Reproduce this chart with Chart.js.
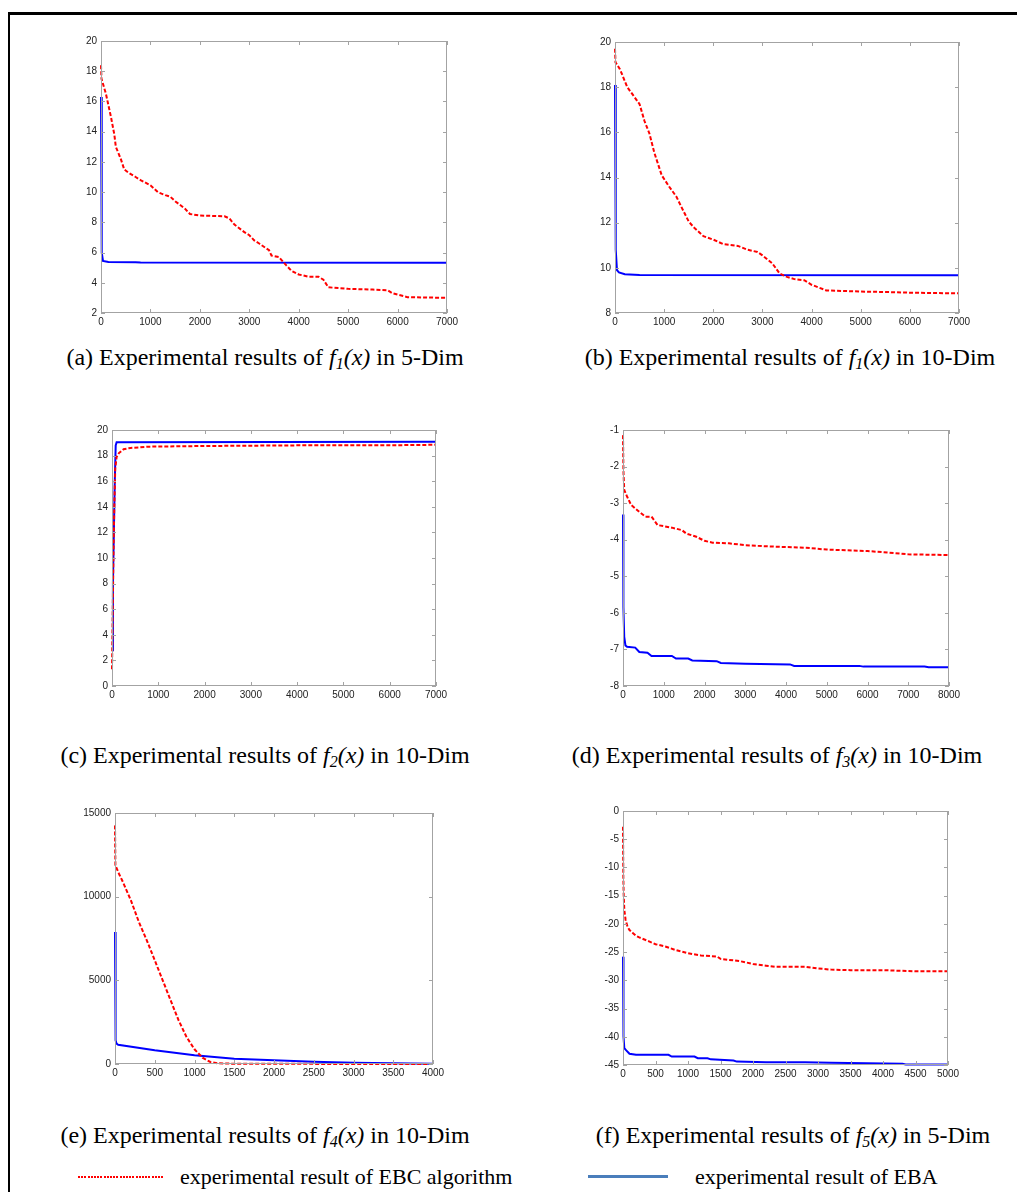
<!DOCTYPE html>
<html>
<head>
<meta charset="utf-8">
<script src="https://cdn.jsdelivr.net/npm/chart.js@4"></script>
<style>
  body { margin: 0; background: #fff; width: 1017px; height: 1192px; position: relative; overflow: hidden; }
  .frame { position: absolute; left: 8px; top: 12px; width: 1200px; height: 1300px; border-left: 2px solid #000; border-top: 3px solid #000; }
  canvas { position: absolute; }
  .cap { position: absolute; width: 560px; text-align: center; font-family: "Liberation Serif", "Times New Roman", serif; font-size: 24px; line-height: 28px; color: #000; white-space: nowrap; }
  .cap i sub { font-size: 16px; vertical-align: -4px; }
  .leg { position: absolute; font-family: "Liberation Serif", "Times New Roman", serif; font-size: 22px; line-height: 24px; color: #000; white-space: nowrap; }
  .dots { position: absolute; height: 2px; background: repeating-linear-gradient(to right, #ff0000 0 2px, transparent 2px 3.2px); }
  .solid { position: absolute; height: 3px; background: #4a7ebb; }
</style>
</head>
<body>
<div class="frame"></div>

<canvas id="ca"></canvas>
<canvas id="cb"></canvas>
<canvas id="cc"></canvas>
<canvas id="cd"></canvas>
<canvas id="ce"></canvas>
<canvas id="cf"></canvas>

<div class="cap" style="left:-15px; top:343px">(a) Experimental results of <i>f<sub>1</sub>(x)</i> in 5-Dim</div>
<div class="cap" style="left:510px; top:343px">(b) Experimental results of <i>f<sub>1</sub>(x)</i> in 10-Dim</div>
<div class="cap" style="left:-15px; top:741px">(c) Experimental results of <i>f<sub>2</sub>(x)</i> in 10-Dim</div>
<div class="cap" style="left:497px; top:741px">(d) Experimental results of <i>f<sub>3</sub>(x)</i> in 10-Dim</div>
<div class="cap" style="left:-15px; top:1121px">(e) Experimental results of <i>f<sub>4</sub>(x)</i> in 10-Dim</div>
<div class="cap" style="left:513px; top:1121px">(f) Experimental results of <i>f<sub>5</sub>(x)</i> in 5-Dim</div>

<div class="dots" style="left:78px; top:1176px; width:86px"></div>
<div class="leg" style="left:180px; top:1165px">experimental result of EBC algorithm</div>
<div class="solid" style="left:588px; top:1175px; width:80px"></div>
<div class="leg" style="left:695px; top:1165px">experimental result of EBA</div>

<script>
// (a) f1, 5-Dim
const a_ebcX = [0,10,100,200,270,300,400,470,550,700,800,1000,1150,1300,1400,1500,1700,1800,2000,2500,2600,2700,2900,3000,3100,3200,3400,3450,3600,3750,3850,4000,4200,4400,4500,4600,5000,5500,5800,5900,6200,7000]
const a_ebcY = [18.4,17.5,16.5,15.0,13.8,13.0,12.2,11.5,11.3,11.0,10.8,10.45,10.0,9.8,9.7,9.4,8.9,8.55,8.45,8.4,8.25,7.85,7.35,7.15,6.8,6.6,6.15,5.8,5.7,5.15,4.8,4.55,4.4,4.4,4.2,3.7,3.6,3.55,3.5,3.3,3.05,3.0]
const a_ebaX = [0,10,20,40,150,700,800,7000]
const a_ebaY = [16.3,8.5,6.0,5.45,5.38,5.36,5.34,5.33]

// (b) f1, 10-Dim
const b_ebcX = [0,10,100,250,400,500,600,700,800,950,1100,1250,1350,1500,1600,1800,2000,2200,2500,2700,2900,3000,3200,3350,3500,3650,3850,4000,4300,5000,5500,6000,7000]
const b_ebcY = [19.7,19.1,18.8,18.0,17.55,17.25,16.5,15.95,15.1,14.1,13.6,13.15,12.7,12.05,11.8,11.4,11.25,11.05,10.97,10.8,10.7,10.55,10.2,9.75,9.6,9.5,9.45,9.25,9.0,8.95,8.93,8.9,8.87]
const b_ebaX = [0,10,20,40,80,200,500,7000]
const b_ebaY = [18.1,12.5,10.8,9.9,9.8,9.72,9.68,9.67]

// (c) f2, 10-Dim
const c_ebcX = [0,10,30,50,70,100,150,250,400,800,2000,4000,6500,7000]
const c_ebcY = [1.3,4,10,14,17,17.9,18.2,18.5,18.6,18.7,18.75,18.8,18.82,18.85]
const c_ebaX = [0,20,40,60,80,100,7000]
const c_ebaY = [2.8,8,12,16,18.8,19.05,19.08]

// (d) f3, 10-Dim
const d_ebcX = [0,10,30,100,200,400,550,700,850,1000,1200,1450,1550,1800,2000,2200,2600,3000,3500,4000,4500,5000,5500,6000,6500,7000,8000]
const d_ebcY = [-1.14,-2.1,-2.64,-2.82,-3.05,-3.24,-3.37,-3.37,-3.6,-3.63,-3.67,-3.74,-3.83,-3.92,-4.03,-4.08,-4.1,-4.15,-4.18,-4.2,-4.22,-4.27,-4.29,-4.31,-4.35,-4.4,-4.42]
const d_ebaX = [0,10,30,60,100,300,400,600,700,1200,1300,1600,1700,2300,2400,3000,4100,4200,5800,5900,7400,7500,8000]
const d_ebaY = [-3.31,-5.84,-6.66,-6.89,-6.93,-6.95,-7.07,-7.09,-7.18,-7.18,-7.25,-7.25,-7.3,-7.32,-7.37,-7.39,-7.41,-7.45,-7.45,-7.47,-7.47,-7.49,-7.49]

// (e) f4, 10-Dim
const e_ebcX = [0,5,50,100,200,300,400,500,600,700,800,900,1000,1100,1200,1300,1500,2000,3000,4000]
const e_ebcY = [14260,11870,11370,10870,9780,8490,7390,6200,5000,3800,2610,1610,880,380,120,40,15,10,5,2]
const e_ebaX = [0,5,10,20,40,500,1000,1500,2000,2500,3000,3500,4000]
const e_ebaY = [7890,2710,1410,1215,1150,815,520,320,220,140,80,40,20]

// (f) f5, 5-Dim
const f_ebcX = [0,5,10,20,40,70,100,150,200,250,400,500,650,800,1000,1200,1450,1500,1800,2000,2200,2350,2800,3000,3200,3500,4000,4500,5000]
const f_ebcY = [-2.8,-11.6,-14.6,-17.5,-19.3,-20.5,-21.1,-21.6,-22.1,-22.4,-23.1,-23.6,-24.0,-24.6,-25.2,-25.6,-25.8,-26.2,-26.6,-27.1,-27.4,-27.6,-27.6,-27.9,-28.1,-28.2,-28.2,-28.4,-28.4]
const f_ebaX = [0,5,10,20,50,100,200,700,750,1100,1150,1300,1350,1700,1750,2200,2800,3200,4300,4350,5000]
const f_ebaY = [-25.8,-34.6,-39.9,-42.0,-42.4,-43.0,-43.2,-43.2,-43.5,-43.5,-43.8,-43.8,-44.0,-44.2,-44.4,-44.5,-44.5,-44.6,-44.8,-44.9,-44.9]

const pts = (xs, ys) => xs.map((x, i) => ({x: x, y: ys[i]}))

// matlab style box: grey frame with short inward ticks on all four sides
const boxPlugin = {
    id: 'box',
    afterDraw(chart) {
        const {ctx, chartArea, scales} = chart
        const {left, right, top, bottom} = chartArea
        ctx.save()
        ctx.strokeStyle = '#a3a3a3'
        ctx.lineWidth = 1
        ctx.strokeRect(left + 0.5, top + 0.5, right - left - 1, bottom - top - 1)
        ctx.beginPath()
        scales.x.ticks.forEach(t => {
            const px = Math.round(scales.x.getPixelForValue(t.value)) + 0.5
            ctx.moveTo(px, bottom); ctx.lineTo(px, bottom - 4)
            ctx.moveTo(px, top); ctx.lineTo(px, top + 4)
        })
        scales.y.ticks.forEach(t => {
            const py = Math.round(scales.y.getPixelForValue(t.value)) + 0.5
            ctx.moveTo(left, py); ctx.lineTo(left + 4, py)
            ctx.moveTo(right, py); ctx.lineTo(right - 4, py)
        })
        ctx.stroke()
        ctx.restore()
    }
}

const YW = 50, XH = 22, PT = 12, PR = 20

function makeChart(id, box, xr, yr, ebc, eba) {
    const cv = document.getElementById(id)
    const w = box.r - box.l + YW + PR
    const h = box.b - box.t + PT + XH
    cv.width = w; cv.height = h
    cv.style.left = (box.l - YW) + 'px'
    cv.style.top = (box.t - PT) + 'px'
    const tickFont = {family: 'Liberation Sans, Arial', size: 10}
    new Chart(cv.getContext('2d'), {
        type: 'scatter',
        data: {
            datasets: [{
                label: 'EBC',
                data: ebc,
                showLine: true,
                borderColor: '#ff0000',
                borderWidth: 2,
                borderDash: [4, 2],
                pointRadius: 0,
                tension: 0,
                clip: 3
            }, {
                label: 'EBA',
                data: eba,
                showLine: true,
                borderColor: '#0000ff',
                borderWidth: 2,
                pointRadius: 0,
                tension: 0,
                clip: 3
            }]
        },
        options: {
            responsive: false,
            animation: false,
            devicePixelRatio: 1,
            layout: {padding: {top: PT, right: PR, bottom: 0, left: 0}},
            plugins: {legend: {display: false}, tooltip: {enabled: false}},
            scales: {
                x: {
                    type: 'linear', min: xr[0], max: xr[1],
                    grid: {display: false, drawTicks: false},
                    border: {display: false},
                    ticks: {stepSize: xr[2], color: '#222', font: tickFont, padding: 3, maxRotation: 0, autoSkip: false,
                        callback: v => String(v)},
                    afterFit: s => { s.height = XH }
                },
                y: {
                    type: 'linear', min: yr[0], max: yr[1],
                    grid: {display: false, drawTicks: false},
                    border: {display: false},
                    ticks: {stepSize: yr[2], color: '#222', font: tickFont, padding: 4, autoSkip: false,
                        callback: v => String(v)},
                    afterFit: s => { s.width = YW }
                }
            }
        },
        plugins: [boxPlugin]
    })
}

makeChart('ca', {l: 101, t: 41, r: 447, b: 313}, [0, 7000, 1000], [2, 20, 2], pts(a_ebcX, a_ebcY), pts(a_ebaX, a_ebaY))
makeChart('cb', {l: 615, t: 42, r: 959, b: 313}, [0, 7000, 1000], [8, 20, 2], pts(b_ebcX, b_ebcY), pts(b_ebaX, b_ebaY))
makeChart('cc', {l: 112, t: 430, r: 436, b: 686}, [0, 7000, 1000], [0, 20, 2], pts(c_ebcX, c_ebcY), pts(c_ebaX, c_ebaY))
makeChart('cd', {l: 623, t: 430, r: 949, b: 686}, [0, 8000, 1000], [-8, -1, 1], pts(d_ebcX, d_ebcY), pts(d_ebaX, d_ebaY))
makeChart('ce', {l: 115, t: 813, r: 433, b: 1064}, [0, 4000, 500], [0, 15000, 5000], pts(e_ebcX, e_ebcY), pts(e_ebaX, e_ebaY))
makeChart('cf', {l: 623, t: 811, r: 948, b: 1065}, [0, 5000, 500], [-45, 0, 5], pts(f_ebcX, f_ebcY), pts(f_ebaX, f_ebaY))
</script>
</body>
</html>
